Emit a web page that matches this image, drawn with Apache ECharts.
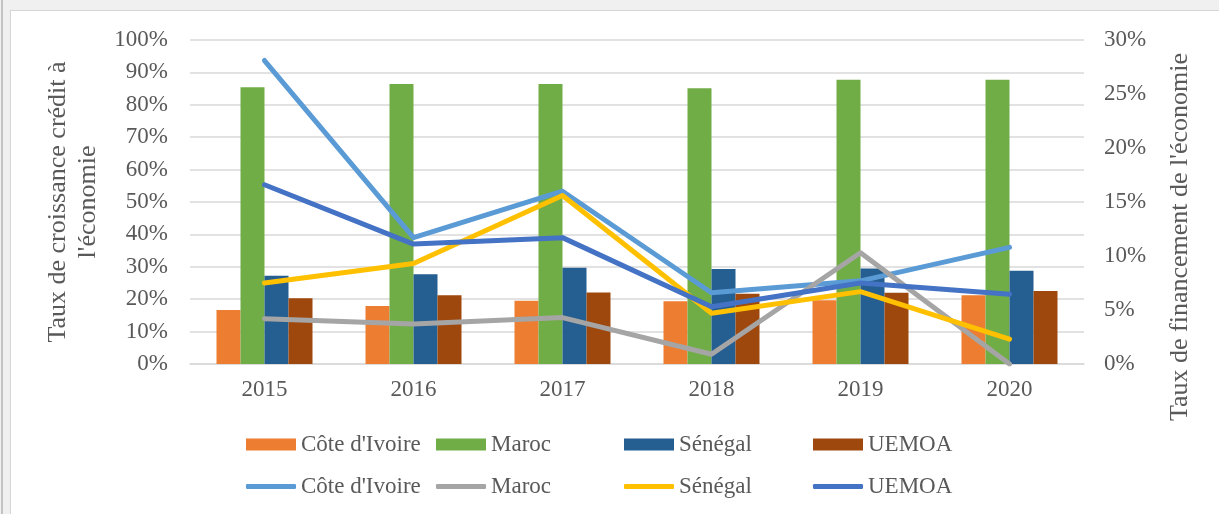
<!DOCTYPE html>
<html>
<head>
    <meta charset="utf-8">
    <title>Taux de croissance et de financement de l'économie</title>
    <script src="https://cdn.jsdelivr.net/npm/echarts@6/dist/echarts.min.js"></script>
    <style>
        html, body { margin: 0; padding: 0; }
        body { width: 1219px; height: 514px; background: #f0f0f0; position: relative; overflow: hidden; }
        #edge { position: absolute; left: 1px; top: 0; width: 2px; height: 514px; background: #c4c4c4; }
        #paper { position: absolute; left: 10px; top: 10px; right: 0; bottom: 0; background: #fff;
                 border-left: 1px solid #d6d6d6; border-top: 1px solid #d6d6d6; }
        #main { position: absolute; left: 0; top: 0; width: 1219px; height: 514px; }
    </style>
</head>
<body>
    <div id="edge"></div>
    <div id="paper"></div>
    <div id="main"></div>

    <script type="text/javascript">
        // données
        var years = ['2015', '2016', '2017', '2018', '2019', '2020'];
        var countries = ["Côte d'Ivoire", 'Maroc', 'Sénégal', 'UEMOA'];

        // barres : taux de croissance crédit à l'économie (axe gauche, %)
        var barCI      = [16.7, 17.9, 19.5, 19.4, 19.7, 21.2];
        var barMaroc   = [85.4, 86.4, 86.4, 85.1, 87.7, 87.7];
        var barSenegal = [27.2, 27.7, 29.7, 29.3, 29.5, 28.8];
        var barUEMOA   = [20.3, 21.2, 22.1, 21.7, 22.0, 22.5];

        // courbes : taux de financement de l'économie (axe droit, %)
        var lineCI      = [28.1, 11.7, 16.0, 6.6, 7.7, 10.8];
        var lineMaroc   = [4.2, 3.7, 4.3, 0.9, 10.3, 0.0];
        var lineSenegal = [7.5, 9.3, 15.6, 4.7, 6.7, 2.3];
        var lineUEMOA   = [16.6, 11.1, 11.7, 5.3, 7.5, 6.45];

        var barColors  = ['#ED7D31', '#70AD47', '#255E91', '#9E480E'];
        var lineColors = ['#5B9BD5', '#A5A5A5', '#FFC000', '#4472C4'];

        var font = "'Liberation Serif', 'Times New Roman', serif";
        var grey = '#595959';

        var barData = [barCI, barMaroc, barSenegal, barUEMOA];
        var lineData = [lineCI, lineMaroc, lineSenegal, lineUEMOA];

        var series = [];
        countries.forEach(function (c, i) {
            series.push({
                name: c + ' (barre)',
                type: 'bar',
                yAxisIndex: 0,
                barWidth: 24,
                barGap: '0%',
                itemStyle: { color: barColors[i] },
                data: barData[i]
            });
        });
        countries.forEach(function (c, i) {
            series.push({
                name: c + ' (ligne)',
                type: 'line',
                yAxisIndex: 1,
                symbol: 'none',
                showSymbol: false,
                color: lineColors[i],
                lineStyle: { width: 5, color: lineColors[i], cap: 'round', join: 'round' },
                emphasis: { disabled: true },
                data: lineData[i]
            });
        });

        // une légende par élément pour garder les colonnes de la figure
        var colX = [246, 436, 624, 813];
        var legends = [];
        countries.forEach(function (c, i) {
            legends.push({
                left: colX[i], top: 433, padding: 0,
                itemWidth: 50, itemHeight: 12, itemGap: 0,
                selectedMode: false,
                icon: 'rect',
                textStyle: { fontFamily: font, fontSize: 23, color: grey },
                formatter: function () { return c; },
                data: [c + ' (barre)']
            });
            legends.push({
                left: colX[i], top: 475, padding: 0,
                itemWidth: 50, itemHeight: 5, itemGap: 0,
                selectedMode: false,
                icon: 'roundRect',
                itemStyle: { color: lineColors[i] },
                textStyle: { fontFamily: font, fontSize: 23, color: grey },
                formatter: function () { return c; },
                data: [c + ' (ligne)']
            });
        });

        var myChart = echarts.init(document.getElementById('main'));

        var option = {
            animation: false,
            backgroundColor: 'transparent',
            grid: { left: 190, right: 135, top: 40, bottom: 150 },
            legend: legends,
            xAxis: {
                type: 'category',
                data: years,
                axisTick: { show: false },
                axisLine: { lineStyle: { color: '#d9d9d9', width: 1.5 } },
                axisLabel: { fontFamily: font, fontSize: 23, color: grey, margin: 14 }
            },
            yAxis: [{
                type: 'value',
                min: 0,
                max: 100,
                interval: 10,
                name: "Taux de croissance crédit à\nl'économie",
                nameLocation: 'middle',
                nameRotate: 90,
                nameGap: 80,
                nameTextStyle: { fontFamily: font, fontSize: 26, color: grey, lineHeight: 30 },
                axisLine: { show: false },
                axisTick: { show: false },
                splitLine: { lineStyle: { color: '#d9d9d9', width: 1.5 } },
                axisLabel: { fontFamily: font, fontSize: 23, color: grey, margin: 22, formatter: '{value}%' }
            }, {
                type: 'value',
                min: 0,
                max: 30,
                interval: 5,
                name: "Taux de financement de l'économie",
                nameLocation: 'middle',
                nameRotate: 90,
                nameGap: 83,
                nameTextStyle: { fontFamily: font, fontSize: 26, color: grey, padding: [0, 70, 0, 0] },
                axisLine: { show: false },
                axisTick: { show: false },
                splitLine: { show: false },
                axisLabel: { fontFamily: font, fontSize: 23, color: grey, margin: 20, formatter: '{value}%' }
            }],
            series: series
        };

        myChart.setOption(option);
    </script>
</body>
</html>
